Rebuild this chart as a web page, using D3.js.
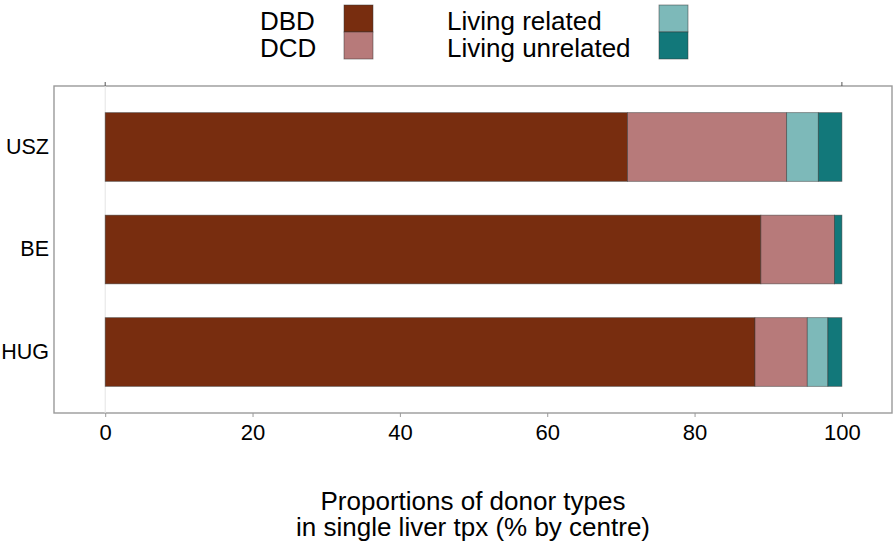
<!DOCTYPE html>
<html><head><meta charset="utf-8">
<script src="https://cdn.jsdelivr.net/npm/d3@7"></script>
<style>body{margin:0;background:#fff}svg{display:block}text{font-family:"Liberation Sans",Arial,sans-serif;fill:#000}</style>
</head><body><svg id="c" width="893" height="552"></svg>
<script>
const centres = ["USZ","BE","HUG"];
const donorTypes = ["DBD","DCD","Living related","Living unrelated"];
const dbd = [70.9, 89.0, 88.2];
const dcd = [21.6, 10.0, 7.1];
const livingRelated = [4.3, 0.0, 2.8];
const livingUnrelated = [3.2, 1.0, 1.9];
const xTicks = [0,20,40,60,80,100];
const colors = ["#782D0F","#B77A7A","#7DB9B9","#12787A"];
const titleLines = ["Proportions of donor types","in single liver tpx (% by centre)"];

const svg = d3.select("#c");
const L=54, R=892, T=86, B=413;
const x = d3.scaleLinear().domain([-6.95, 106.8]).range([L, R]);
const y = d3.scaleBand().domain(centres).range([T, B]).paddingInner(0.33).paddingOuter(0.26);

const rows = centres.map((c,i)=>({centre:c, DBD:dbd[i], DCD:dcd[i], "Living related":livingRelated[i], "Living unrelated":livingUnrelated[i]}));
const series = d3.stack().keys(donorTypes)(rows);

// panel
svg.append("rect").attr("x",L).attr("y",T).attr("width",R-L).attr("height",B-T)
  .attr("fill","#fff").attr("stroke","#9a9a9a").attr("stroke-width",1.4);
// gridline at 0
svg.append("line").attr("x1",x(0)).attr("x2",x(0)).attr("y1",T).attr("y2",B)
  .attr("stroke","#e4e4e4").attr("stroke-width",1);

// bars
svg.append("g").selectAll("g").data(series).join("g")
  .attr("fill",(d,i)=>colors[i])
  .selectAll("rect").data(d=>d.filter(s=>s[1]-s[0]>0)).join("rect")
  .attr("x",d=>x(d[0])).attr("width",d=>x(d[1])-x(d[0]))
  .attr("y",d=>y(d.data.centre)).attr("height",y.bandwidth())
  .attr("stroke","#333").attr("stroke-opacity",0.6).attr("stroke-width",0.8);

// bottom axis
const ax = svg.append("g").attr("transform",`translate(0,${B})`)
  .call(d3.axisBottom(x).tickValues(xTicks).tickSize(4).tickPadding(7).tickFormat(d3.format("d")));
ax.select(".domain").remove();
ax.selectAll("line").attr("stroke","#9a9a9a");
ax.selectAll("text").attr("font-size",22).attr("fill","#000");

// top small ticks at 0 and 100
svg.append("g").selectAll("line").data([0,100]).join("line")
  .attr("x1",d=>x(d)).attr("x2",d=>x(d)).attr("y1",T-4).attr("y2",T)
  .attr("stroke","#555").attr("stroke-width",1);

// y axis labels
const ay = svg.append("g").attr("transform",`translate(${L},0)`)
  .call(d3.axisLeft(y).tickSize(0).tickPadding(5));
ay.select(".domain").remove();
ay.selectAll("text").attr("font-size",21.5).attr("fill","#000");

// title
svg.append("text").attr("text-anchor","middle").attr("font-size",26)
  .selectAll("tspan").data(titleLines).join("tspan")
  .attr("x",(L+R)/2).attr("y",(d,i)=>510+i*26).text(d=>d);

// legend
const legendPos = [
  {tx:260, kx:344, ky:5},
  {tx:260, kx:344, ky:32},
  {tx:447, kx:659, ky:5},
  {tx:447, kx:659, ky:32}
];
const lg = svg.append("g");
donorTypes.forEach((k,i)=>{
  const p = legendPos[i];
  lg.append("rect").attr("x",p.kx).attr("y",p.ky).attr("width",29).attr("height",27)
    .attr("fill",colors[i]).attr("stroke","#333").attr("stroke-opacity",0.6).attr("stroke-width",0.8);
  lg.append("text").attr("x",p.tx).attr("y",p.ky+24.5).attr("font-size",26).text(k);
});
</script></body></html>
